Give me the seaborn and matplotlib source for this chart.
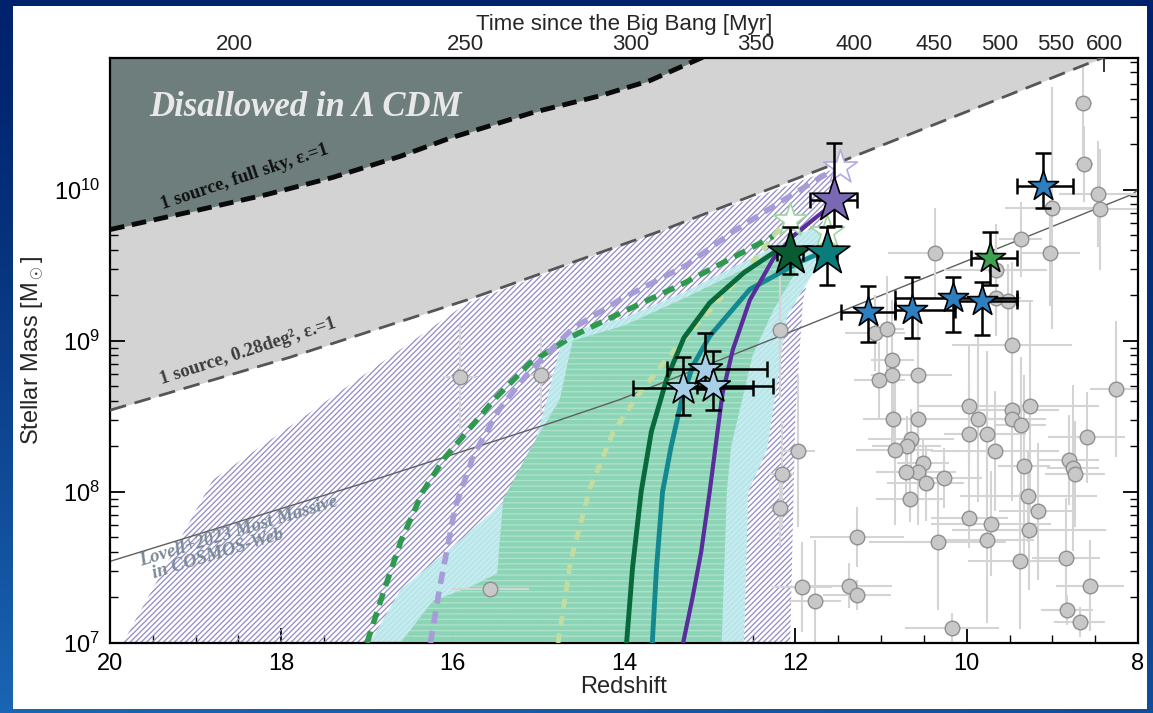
import numpy as np
import pandas as pd
import matplotlib
matplotlib.use("Agg")
import matplotlib.pyplot as plt
import seaborn as sns
from matplotlib.patches import Rectangle
from matplotlib.ticker import MultipleLocator, LogLocator, NullFormatter, NullLocator, FixedLocator

# ---------------- data (redshift, log10 stellar mass) ----------------
fullsky_z = [20.0, 19.0, 18.17, 17.4, 16.61, 16.03, 15.06, 14.28, 13.7, 13.1, 12.5]
fullsky_logm = [9.735, 9.86, 9.967, 10.08, 10.22, 10.34, 10.51, 10.62, 10.72, 10.87, 11.0]
deg_z = [20.0, 17.9, 15.83, 13.6, 11.40, 8.42, 8.0]
deg_logm = [8.54, 8.89, 9.27, 9.72, 10.20, 10.87, 10.96]
lovell_z = [20.0, 17.08, 14.83, 14.05, 12.18, 8.06, 8.0]
lovell_logm = [7.54, 8.05, 8.46, 8.61, 9.03, 9.97, 10.0]

hatch_z = [19.85, 18.8, 17.78, 15.83, 14.5, 13.0, 11.48, 11.7, 11.91, 12.0, 12.06]
hatch_logm = [7.0, 8.08, 8.48, 9.25, 9.53, 9.84, 10.15, 9.75, 9.27, 8.5, 7.0]
cyan_z = [16.97, 16.61, 15.91, 15.37, 15.06, 14.9, 14.7, 14.0, 13.3, 12.5, 11.9, 11.6,
          11.56, 11.75, 12.1, 12.33, 12.55, 12.6]
cyan_logm = [7.0, 7.35, 7.68, 7.95, 8.28, 8.61, 9.05, 9.15, 9.32, 9.55, 9.72, 9.78,
             9.7, 9.49, 9.16, 8.28, 8.0, 7.0]
green_z = [16.61, 16.23, 15.8, 15.48, 15.41, 15.1, 14.75, 14.6, 14.0, 13.3, 12.5, 12.1, 11.95,
           12.0, 12.26, 12.5, 12.75, 12.8, 12.86]
green_logm = [7.0, 7.28, 7.37, 7.46, 7.95, 8.28, 8.61, 9.0, 9.1, 9.28, 9.5, 9.62, 9.62,
              9.45, 9.2, 8.9, 8.3, 8.0, 7.0]

gdash_z = [17.0, 16.8, 16.6, 16.35, 16.1, 15.8, 15.5, 15.1, 14.6, 14.2, 13.3, 12.26]
gdash_logm = [7.0, 7.35, 7.68, 8.0, 8.22, 8.42, 8.62, 8.85, 9.03, 9.14, 9.38, 9.69]
pdash_z = [16.26, 16.15, 15.97, 15.75, 15.45, 15.1, 14.6, 14.05, 13.27, 12.73, 12.14, 11.56]
pdash_logm = [7.0, 7.37, 7.9, 8.25, 8.55, 8.8, 9.08, 9.27, 9.5, 9.72, 9.93, 10.13]
pale_z = [14.77, 14.62, 14.4, 14.13, 13.85, 13.5, 13.0, 12.6, 12.1]
pale_logm = [7.0, 7.55, 8.02, 8.39, 8.63, 8.88, 9.2, 9.45, 9.8]
dgreen_z = [13.97, 13.9, 13.8, 13.68, 13.5, 13.3, 13.0, 12.6, 12.26, 12.06]
dgreen_logm = [7.0, 7.5, 8.0, 8.4, 8.75, 9.02, 9.25, 9.45, 9.58, 9.62]
teal_z = [13.67, 13.62, 13.55, 13.45, 13.33, 13.2, 13.0, 12.53, 11.95, 11.63]
teal_logm = [7.0, 7.5, 8.0, 8.3, 8.6, 8.83, 9.03, 9.34, 9.52, 9.6]
purp_z = [13.31, 13.2, 13.1, 13.0, 12.92, 12.85, 12.73, 12.53, 12.26, 12.03, 11.75, 11.5]
purp_logm = [7.0, 7.3, 7.6, 8.0, 8.35, 8.65, 8.94, 9.27, 9.54, 9.69, 9.82, 9.93]

# big stars: purple, dark green, teal
big_z = [11.55, 12.06, 11.63]
big_logm = [9.93, 9.58, 9.58]
big_ylo = [0.17, 0.14, 0.21]
big_yhi = [0.38, 0.17, 0.17]
big_zlo = [0.27, 0.15, 0.12]
big_zhi = [0.28, 0.15, 0.12]
big_colors = ["#7a68b5", "#0a5a32", "#0c7c7a"]
# open stars
open_z = [11.48, 12.06, 11.63]
open_logm = [10.15, 9.80, 9.72]
open_edges = ["#b3a9e0", "#9ed69e", "#9ed69e"]
# light blue stars
lb_z = [13.31, 13.05, 12.96]
lb_logm = [8.69, 8.81, 8.70]
lb_ylo = [0.18, 0.13, 0.16]
lb_yhi = [0.20, 0.24, 0.23]
lb_zlo = [0.81, 0.72, 0.70]
lb_zhi = [0.59, 0.45, 0.19]
# blue stars
b_z = [9.11, 11.15, 10.64, 10.16, 9.82]
b_logm = [10.02, 9.19, 9.20, 9.28, 9.26]
b_ylo = [0.14, 0.20, 0.18, 0.22, 0.22]
b_yhi = [0.22, 0.17, 0.22, 0.14, 0.13]
b_zlo = [0.35, 0.31, 0.50, 0.75, 0.41]
b_zhi = [0.30, 0.32, 0.20, 0.68, 0.32]
# green small star
gs_z = [9.73]
gs_logm = [9.55]
gs_ylo = [0.18]
gs_yhi = [0.17]
gs_zlo = [0.32]
gs_zhi = [0.22]

# literature points
gray_z = [8.64, 8.63, 8.47, 8.44, 9.00, 9.37, 9.03, 10.37, 9.66, 9.66, 9.52, 11.07, 10.93, 9.47,
          10.87, 10.87, 11.02, 10.57, 8.26, 9.97, 9.47, 9.26, 10.86, 10.57, 9.87, 9.47, 9.37,
          9.97, 9.76, 8.60, 10.65, 10.70, 10.84, 9.67, 11.97, 8.81, 10.51, 9.33, 8.76, 10.57,
          10.71, 8.74, 10.27, 10.48, 12.16, 9.28, 10.66, 9.17, 9.97, 9.72, 9.27, 11.28, 10.34,
          9.76, 9.38, 8.84, 8.56, 11.92, 11.37, 11.28, 11.77, 8.83, 8.68, 10.17, 12.18, 15.91,
          14.97, 15.56, 12.18]
gray_logm = [10.57, 10.17, 9.97, 9.87, 9.88, 9.67, 9.58, 9.58, 9.47, 9.28, 9.26, 9.05, 9.08, 8.97,
             8.87, 8.77, 8.74, 8.77, 8.68, 8.57, 8.54, 8.57, 8.48, 8.48, 8.48, 8.48, 8.44,
             8.38, 8.38, 8.36, 8.35, 8.30, 8.28, 8.27, 8.27, 8.21, 8.19, 8.17, 8.16, 8.13,
             8.13, 8.12, 8.09, 8.06, 8.12, 7.97, 7.95, 7.87, 7.83, 7.79, 7.75, 7.70, 7.67,
             7.68, 7.54, 7.56, 7.38, 7.37, 7.38, 7.32, 7.28, 7.22, 7.14, 7.10, 7.89, 8.76,
             8.77, 7.36, 9.07]
gray_zerr = [0.10, 0.10, 0.45, 0.60, 0.55, 0.25, 0.35, 0.55, 0.60, 0.30, 0.30, 0.35, 0.20, 0.70,
             0.25, 0.25, 0.30, 0.40, 0.30, 0.60, 0.55, 0.80, 0.35, 0.35, 0.45, 0.40, 0.30,
             0.30, 0.45, 0.45, 0.50, 0.40, 0.45, 0.75, 0.20, 0.35, 0.30, 0.30, 0.30, 0.45,
             0.35, 0.35, 0.45, 0.45, 0.15, 0.80, 0.40, 0.45, 0.45, 0.70, 0.90, 0.55, 0.80,
             0.55, 0.60, 0.40, 0.40, 0.35, 0.50, 0.40, 0.30, 0.30, 0.30, 0.55, 0.10, 0.20,
             0.15, 0.45, 0.10]
gray_mer = [0.35, 0.25, 0.35, 0.40, 0.80, 0.25, 0.35, 0.30, 0.30, 0.25, 0.25, 0.25, 0.35, 0.55,
            0.30, 0.50, 0.25, 0.45, 0.45, 0.40, 0.60, 0.70, 0.25, 0.60, 0.55, 0.35, 0.45,
            0.35, 0.55, 0.30, 0.20, 0.20, 0.50, 0.40, 0.50, 0.30, 0.15, 0.60, 0.55, 0.35,
            0.20, 0.35, 0.20, 0.25, 0.35, 0.30, 0.15, 0.45, 0.20, 0.35, 0.40, 0.20, 0.45,
            0.55, 0.45, 0.40, 0.30, 0.30, 0.15, 0.10, 0.40, 0.10, 0.10, 0.10, 0.25, 0.35,
            0.25, 0.03, 0.45]

time_ticks = [200, 250, 300, 350, 400, 450, 500, 550, 600]

# flat LCDM age (Myr)
A_MYR = 11591.0
B_COS = 1.4919


def z2t(z):
    z = np.asarray(z, dtype=float)
    zp = np.clip(1.0 + z, 1e-3, None)
    return A_MYR * np.arcsinh(B_COS * zp ** -1.5)


def t2z(t):
    t = np.clip(np.asarray(t, dtype=float), 1e-3, None)
    return (np.sinh(t / A_MYR) / B_COS) ** (-2.0 / 3.0) - 1.0


# ---------------- style ----------------
sns.set_theme(style="white")
plt.rcParams["font.family"] = ["Liberation Sans", "DejaVu Sans"]
plt.rcParams["mathtext.fontset"] = "custom"
plt.rcParams["mathtext.rm"] = "Liberation Sans"
plt.rcParams["mathtext.it"] = "Liberation Sans:italic"
plt.rcParams["mathtext.bf"] = "Liberation Sans:bold"
plt.rcParams["hatch.linewidth"] = 0.95
plt.rcParams["axes.unicode_minus"] = False

fig = plt.figure(figsize=(11.53, 7.13), dpi=100)

# blue gradient background + white panel
bg = fig.add_axes([0, 0, 1, 1], zorder=-10)
tt = np.linspace(0, 1, 200)[:, None]
ss = np.linspace(0, 1, 300)[None, :]
c_top = np.array([0x00, 0x22, 0x6c]) / 255.0
c_bot = np.array([0x1a, 0x66, 0xb4]) / 255.0
frac = (tt ** 1.3) * (1 - 0.35 * ss)
img = c_top[None, None, :] + (c_bot - c_top)[None, None, :] * frac[..., None]
bg.imshow(img, aspect="auto", extent=[0, 1, 0, 1], origin="upper")
bg.set_axis_off()
fig.add_artist(Rectangle((13 / 1153, 4 / 713), 1134 / 1153, 703 / 713,
                         transform=fig.transFigure, facecolor="white",
                         edgecolor="none", zorder=-5))

ax = fig.add_axes([110 / 1153, 70 / 713, 1028 / 1153, 585 / 713])
ax.set_facecolor("white")
ax.set_yscale("log")
ax.set_xlim(20, 8)
ax.set_ylim(1e7, 10 ** 10.87)

p = lambda a: 10 ** np.asarray(a, dtype=float)

# shaded regions
ax.fill_between(deg_z, p(deg_logm), 1e12, color="#d3d3d3", lw=0, zorder=0.5)
ax.fill_between(fullsky_z, p(fullsky_logm), 1e12, color="#6d7e7c", lw=0, zorder=0.6)
ax.fill(hatch_z, p(hatch_logm), facecolor="none", edgecolor="#958fc6", hatch="//////",
        lw=0, zorder=1)
ax.fill(cyan_z, p(cyan_logm), facecolor="#aee4e8", edgecolor="#d8f3f5", hatch="//////",
        lw=0, alpha=0.88, zorder=1.1)
ax.fill(green_z, p(green_logm), facecolor="#86d2b0", edgecolor="#b2e4cd", hatch="---",
        lw=0, alpha=0.9, zorder=1.2)


def curve(zs, lms, color, lw, ls, zo):
    sns.lineplot(x=np.asarray(zs), y=p(lms), ax=ax, color=color, lw=lw, linestyle=ls,
                 sort=False, estimator=None, zorder=zo, legend=False)


curve(lovell_z, lovell_logm, "#5f5f5f", 1.0, "-", 1.5)
curve(deg_z, deg_logm, "#555555", 2.0, (0, (6, 3.2)), 3.5)
curve(fullsky_z, fullsky_logm, "#0a0a0a", 3.5, (0, (3, 1.6)), 3.6)

# literature points
gz = np.asarray(gray_z)
gm = np.asarray(gray_logm)
gme = np.asarray(gray_mer)
ax.errorbar(gz, p(gm), xerr=gray_zerr, yerr=[p(gm) - p(gm - gme), p(gm + gme) - p(gm)],
            fmt="none", ecolor="#d4d4d4", elinewidth=1.5, capsize=0, zorder=2)
sns.scatterplot(x=gz, y=p(gm), ax=ax, s=110, color="#c8c8c8", edgecolor="#8f8f8f",
                linewidth=1.0, zorder=2.2, legend=False)

# model curves
curve(gdash_z, gdash_logm, "#2f9a4d", 4.0, (0, (2.2, 1.4)), 3)
curve(pdash_z, pdash_logm, "#a69cd8", 4.0, (0, (2.2, 1.4)), 3)
curve(pale_z, pale_logm, "#c3dca0", 3.5, (0, (2.0, 1.6)), 3)
curve(dgreen_z, dgreen_logm, "#08693a", 3.5, "-", 3.1)
curve(teal_z, teal_logm, "#13898f", 3.5, "-", 3.1)
curve(purp_z, purp_logm, "#5a2d9c", 3.0, "-", 3.1)


def stars(zs, lms, zlo, zhi, ylo, yhi, colors, size, zo=6):
    zs = np.asarray(zs)
    lms = np.asarray(lms)
    ax.errorbar(zs, p(lms), xerr=[zlo, zhi],
                yerr=[p(lms) - p(lms - np.asarray(ylo)), p(lms + np.asarray(yhi)) - p(lms)],
                fmt="none", ecolor="black", elinewidth=1.8, capsize=6, capthick=1.8,
                zorder=zo - 1)
    sns.scatterplot(x=zs, y=p(lms), ax=ax, marker="*", s=size, color=colors,
                    edgecolor="black", linewidth=1.2, zorder=zo, legend=False)


# open stars
for zv, lv, ec in zip(open_z, open_logm, open_edges):
    sns.scatterplot(x=[zv], y=[p(lv)], ax=ax, marker="*", s=650, color="white",
                    edgecolor=ec, linewidth=1.2, zorder=4.5, legend=False)

stars(lb_z, lb_logm, lb_zlo, lb_zhi, lb_ylo, lb_yhi, "#a8cfe8", 650)
stars(b_z, b_logm, b_zlo, b_zhi, b_ylo, b_yhi, "#2d7fc0", 520)
stars(gs_z, gs_logm, gs_zlo, gs_zhi, gs_ylo, gs_yhi, "#3da24f", 520)
for i in range(3):
    stars([big_z[i]], [big_logm[i]], [big_zlo[i]], [big_zhi[i]], [big_ylo[i]], [big_yhi[i]],
          big_colors[i], 1150, zo=7)

# annotations
serif = ["Liberation Serif", "DejaVu Serif"]
ax.text(0.190, 0.916, "Disallowed in \u039b CDM", transform=ax.transAxes, family=serif,
        fontsize=25, fontweight="bold", fontstyle="italic", color="#e8e8e8",
        ha="center", va="center", zorder=8)
ax.text(0.131, 0.797, "1 source, full sky, \u03b5.=1", transform=ax.transAxes, family=serif,
        fontsize=13.5, fontweight="bold", color="#111111", rotation=18.5,
        ha="center", va="center", zorder=8)
ax.text(0.134, 0.499, "1 source, 0.28deg\u00b2, \u03b5.=1", transform=ax.transAxes, family=serif,
        fontsize=13.5, fontweight="bold", color="#3c3c3c", rotation=18,
        ha="center", va="center", zorder=8)
ax.text(0.127, 0.178, "Lovell+2023 Most Massive\n  in COSMOS-Web", transform=ax.transAxes,
        family=serif, fontsize=13.5, fontweight="bold", fontstyle="italic", color="#7a8a96",
        rotation=17, ha="center", va="center", multialignment="left", linespacing=0.9,
        zorder=8)

# axes, ticks
ax.xaxis.set_major_locator(FixedLocator([20, 18, 16, 14, 12, 10, 8]))
ax.xaxis.set_minor_locator(MultipleLocator(0.5))
ax.yaxis.set_major_locator(LogLocator(base=10))
ax.yaxis.set_minor_locator(LogLocator(base=10, subs=np.arange(2, 10)))
ax.yaxis.set_minor_formatter(NullFormatter())
ax.tick_params(which="both", direction="in", top=False, right=True, left=True, bottom=True,
               colors="black")
ax.tick_params(which="major", length=11, width=1.3, labelsize=17, pad=7)
ax.tick_params(which="minor", length=6, width=1.0)
for sp in ax.spines.values():
    sp.set_linewidth(1.6)
    sp.set_color("black")
ax.set_xlabel("Redshift", fontsize=17, labelpad=1)
ax.set_ylabel(r"Stellar Mass [M$_\odot$]", fontsize=17, labelpad=6)

sec = ax.secondary_xaxis("top", functions=(z2t, t2z))
sec.set_xticks(time_ticks)
sec.set_xticklabels([str(t) for t in time_ticks])
sec.xaxis.set_minor_locator(NullLocator())
sec.tick_params(direction="in", length=10, width=1.3, labelsize=16, pad=2)
sec.set_xlabel("Time since the Big Bang [Myr]", fontsize=16, labelpad=3)

fig.savefig("out.png", dpi=100)
